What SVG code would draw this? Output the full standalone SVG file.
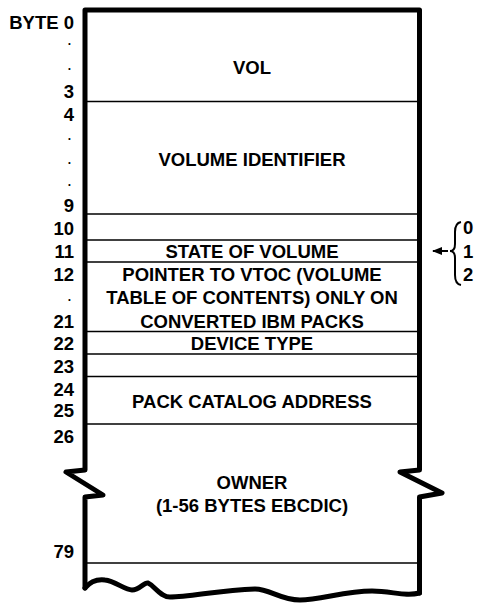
<svg xmlns="http://www.w3.org/2000/svg" width="479" height="605" viewBox="0 0 479 605">
<style>
text{font-family:"Liberation Sans",Arial,sans-serif;font-weight:bold;font-size:18.5px;fill:#000}
.num{text-anchor:end}
.dot{text-anchor:end;font-size:12px}
.c{text-anchor:middle}
.div{stroke:#000;stroke-width:1.4;fill:none}
.edge{stroke:#000;stroke-width:5;fill:none;stroke-linejoin:round;stroke-linecap:round}
</style>
<defs>
<marker id="ah" viewBox="0 0 10 8" refX="0" refY="4" markerWidth="10" markerHeight="8" markerUnits="userSpaceOnUse" orient="auto">
<path d="M10,0 L0,4 L10,8 Z" fill="#000"/>
</marker>
</defs>
<rect width="479" height="605" fill="#fff"/>

<g id="record-outline">
<path class="edge" d="M85,588 L85,497 L103,495 L66,472 L85,470 L85,10 L419.5,10 L419.5,470 L400,472 L442,493 L419.5,497 L419.5,593"/>
<path class="edge" d="M85,588 C90,582 97,579 105,580 C115,581 125,590 132,590 C140,590 144,582 148,583 C155,586 160,597 170,597 C190,597 220,590 255,589 C270,589 280,600 300,600 C320,600 345,591 372,591 C392,591 405,597 419.5,593"/>
</g>

<g id="byte-labels">
<text class="num" x="74" y="29">BYTE 0</text>
<text class="dot" x="71" y="45">.</text>
<text class="dot" x="71" y="70">.</text>
<text class="num" x="74" y="98">3</text>
<text class="num" x="74" y="121">4</text>
<text class="dot" x="71" y="140">.</text>
<text class="dot" x="71" y="164">.</text>
<text class="dot" x="71" y="186">.</text>
<text class="num" x="74" y="212">9</text>
<text class="num" x="74" y="235">10</text>
<text class="num" x="74" y="258">11</text>
<text class="num" x="74" y="281">12</text>
<text class="dot" x="71" y="301">.</text>
<text class="num" x="74" y="328">21</text>
<text class="num" x="74" y="350">22</text>
<text class="num" x="74" y="373">23</text>
<text class="num" x="74" y="396">24</text>
<text class="num" x="74" y="417">25</text>
<text class="num" x="74" y="443">26</text>
<text class="num" x="74" y="558">79</text>
</g>

<g id="field-vol">
<text class="c" x="252" y="74">VOL</text>
<line class="div" x1="85" y1="101.5" x2="419.5" y2="101.5"/>
</g>
<g id="field-volume-identifier">
<text class="c" x="252" y="166">VOLUME IDENTIFIER</text>
<line class="div" x1="85" y1="214" x2="419.5" y2="214"/>
</g>
<g id="field-byte10">
<line class="div" x1="85" y1="240" x2="419.5" y2="240"/>
</g>
<g id="field-state">
<text class="c" x="252" y="258">STATE OF VOLUME</text>
<line class="div" x1="85" y1="262" x2="419.5" y2="262"/>
</g>
<g id="field-vtoc-pointer">
<text class="c" x="252" y="281">POINTER TO VTOC (VOLUME</text>
<text class="c" x="252" y="304">TABLE OF CONTENTS) ONLY ON</text>
<text class="c" x="252" y="328">CONVERTED IBM PACKS</text>
<line class="div" x1="85" y1="331.5" x2="419.5" y2="331.5"/>
</g>
<g id="field-device-type">
<text class="c" x="252" y="350">DEVICE TYPE</text>
<line class="div" x1="85" y1="354" x2="419.5" y2="354"/>
</g>
<g id="field-byte23">
<line class="div" x1="85" y1="376.5" x2="419.5" y2="376.5"/>
</g>
<g id="field-pack-catalog">
<text class="c" x="252" y="408">PACK CATALOG ADDRESS</text>
<line class="div" x1="85" y1="424" x2="419.5" y2="424"/>
</g>
<g id="field-owner">
<text class="c" x="252" y="489">OWNER</text>
<text class="c" x="252" y="512">(1-56 BYTES EBCDIC)</text>
<line class="div" x1="85" y1="563" x2="419.5" y2="563"/>
</g>

<g id="state-values">
<path d="M461,222 Q455,223 455,232 L455,244 Q455,251 450,251 Q455,251 455,258 L455,275 Q455,284 461,285" fill="none" stroke="#000" stroke-width="2"/>
<text x="463" y="234">0</text>
<text x="463" y="258">1</text>
<text x="463" y="281">2</text>
</g>

<g id="connectors">
<line x1="432" y1="251" x2="450" y2="251" stroke="#000" stroke-width="2.2" stroke-dasharray="0 1 6 3 6 3" marker-start="url(#ah)"/>
</g>
</svg>
